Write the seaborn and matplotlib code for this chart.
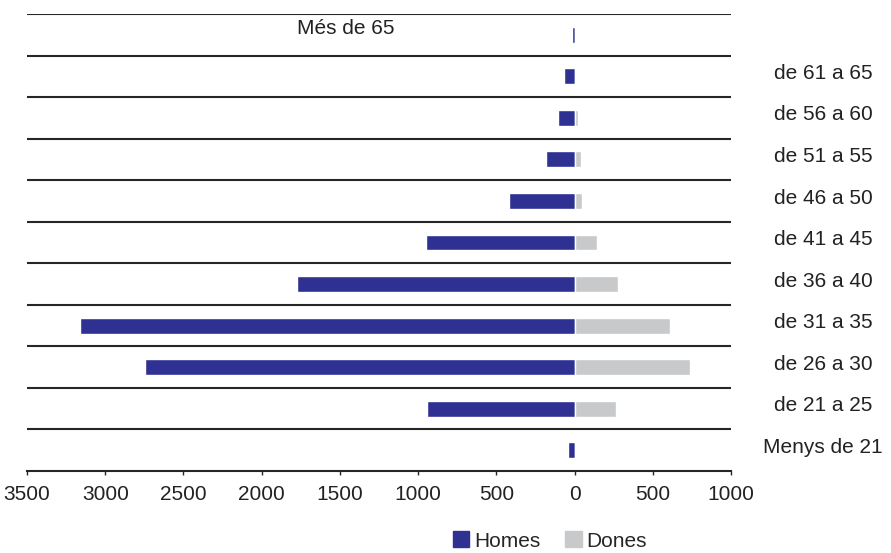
import pandas as pd
import matplotlib
matplotlib.use("Agg")
import matplotlib.pyplot as plt
import seaborn as sns
from matplotlib.ticker import FuncFormatter
from matplotlib.patches import Patch

# -----------------------------
# Data
# -----------------------------
edats = ["Més de 65", "de 61 a 65", "de 56 a 60", "de 51 a 55", "de 46 a 50",
         "de 41 a 45", "de 36 a 40", "de 31 a 35", "de 26 a 30", "de 21 a 25",
         "Menys de 21"]
homes = [15, 70, 109, 180, 420, 952, 1776, 3163, 2748, 946, 45]
dones = [0, 0, 24, 38, 45, 141, 275, 613, 741, 262, 0]
ticks = [-3500, -3000, -2500, -2000, -1500, -1000, -500, 0, 500, 1000]

color_homes = "#2E3192"
color_dones = "#C8C9CB"

df = pd.DataFrame({
    "edat": edats * 2,
    "valor": [-h for h in homes] + dones,
    "sexe": ["Homes"] * len(edats) + ["Dones"] * len(edats),
})

sns.set_style("white")
plt.rcParams["font.family"] = ["Liberation Sans", "DejaVu Sans"]

fig = plt.figure(figsize=(8.91, 5.53), dpi=100)
ax = fig.add_axes([27 / 891, 1 - 471 / 553, (731 - 27) / 891, (471 - 14) / 553])

sns.barplot(
    data=df, x="valor", y="edat", hue="sexe", order=edats,
    hue_order=["Homes", "Dones"], palette=[color_homes, color_dones],
    orient="h", dodge=False, width=0.385, saturation=1, ax=ax, legend=False,
)

ax.set_xlim(-3500, 1000)
ax.set_ylim(len(edats) - 0.5, -0.5)

# separator lines between age bands
for i in range(len(edats)):
    ax.axhline(i - 0.5, color="#262626", lw=1.5, zorder=0.5)

for s in ["top", "left", "right"]:
    ax.spines[s].set_visible(False)
ax.spines["bottom"].set_color("#262626")
ax.spines["bottom"].set_linewidth(1.5)

ax.set_xticks(ticks)
ax.xaxis.set_major_formatter(FuncFormatter(lambda v, p: f"{abs(int(v))}"))
ax.tick_params(axis="x", direction="out", length=3, width=1, color="#262626",
               labelsize=15, pad=7, labelcolor="#222222", bottom=True)
ax.set_yticks([])
ax.set_xlabel("")
ax.set_ylabel("")

# age labels on the right; the first one sits inside the plot
ax.text(-1460, -0.16, edats[0], ha="center", va="center", fontsize=15, color="#222222")
for i, lab in enumerate(edats[1:], start=1):
    ax.text(1590, i - 0.07, lab, ha="center", va="center", fontsize=15,
            color="#222222", clip_on=False)

handles = [Patch(color=color_homes, label="Homes"), Patch(color=color_dones, label="Dones")]
fig.legend(handles=handles, loc="center", bbox_to_anchor=(550 / 891, 1 - 541 / 553),
           ncol=2, frameon=False, fontsize=15, handlelength=0.8, handleheight=0.8,
           handletextpad=0.25, columnspacing=1.15, borderpad=0)

fig.savefig("out.png", dpi=100)
